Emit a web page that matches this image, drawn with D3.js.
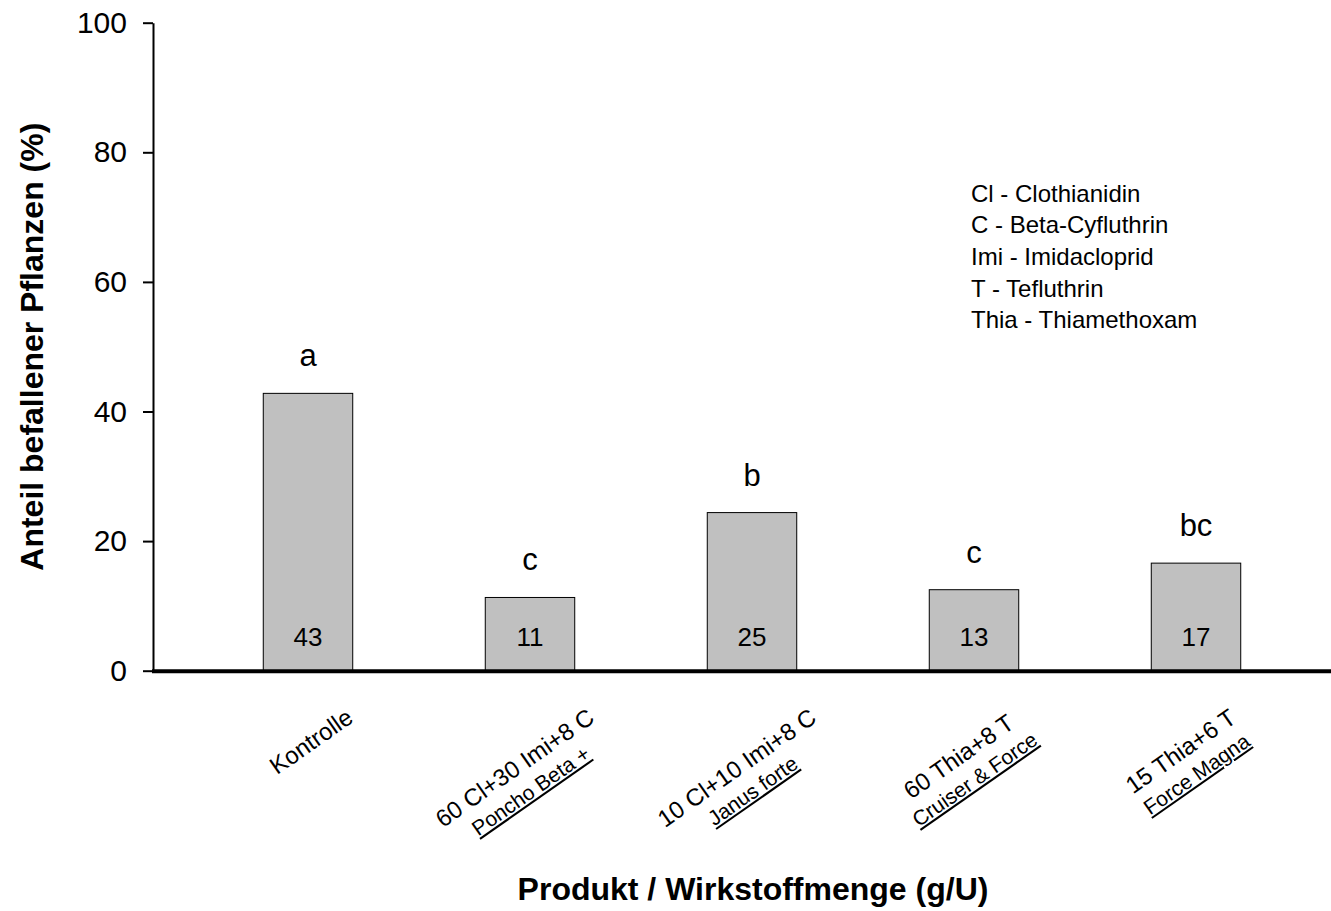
<!DOCTYPE html>
<html>
<head>
<meta charset="utf-8">
<script src="https://cdn.jsdelivr.net/npm/d3@7"></script>
<style>
	body { margin: 0; background: #fff; }
	svg { display: block; }
	text { font-family: Arial, "Liberation Sans", sans-serif; fill: #000; }
</style>
</head>
<body>
<div id="chart"></div>
<script>
// data
var categories = ["Kontrolle", "Poncho Beta +", "Janus forte", "Cruiser & Force", "Force Magna"];
var doseLabels = ["Kontrolle", "60 Cl+30 Imi+8 C", "10 Cl+10 Imi+8 C", "60 Thia+8 T", "15 Thia+6 T"];
var productLabels = ["", "Poncho Beta +", "Janus forte", "Cruiser & Force", "Force Magna"];
var values = [42.8, 11.3, 24.4, 12.5, 16.6];
var valueLabels = ["43", "11", "25", "13", "17"];
var letters = ["a", "c", "b", "c", "bc"];
var yTicks = [0, 20, 40, 60, 80, 100];
var legendLines = ["Cl - Clothianidin", "C - Beta-Cyfluthrin", "Imi - Imidacloprid", "T - Tefluthrin", "Thia - Thiamethoxam"];

var width = 1331, height = 911;
var axisX = 153, axisTop = 22.7, axisBottom = 670.7;

var svg = d3.select("#chart").append("svg")
	.attr("width", width)
	.attr("height", height);

var x = d3.scaleBand()
	.domain(categories)
	.range([197, 1307])
	.paddingInner(0.597)
	.paddingOuter(0.2985);

var y = d3.scaleLinear()
	.domain([0, 100])
	.range([axisBottom, axisTop]);

// bars
svg.append("g").selectAll("rect")
	.data(values)
	.join("rect")
	.attr("x", (d, i) => x(categories[i]))
	.attr("y", d => y(d))
	.attr("width", x.bandwidth())
	.attr("height", d => y(0) - y(d))
	.attr("fill", "#c0c0c0")
	.attr("stroke", "#000")
	.attr("stroke-width", 1);

// values inside bars
svg.append("g").selectAll("text")
	.data(valueLabels)
	.join("text")
	.attr("x", (d, i) => x(categories[i]) + x.bandwidth() / 2)
	.attr("y", y(0) - 25)
	.attr("text-anchor", "middle")
	.style("font-size", "26px")
	.text(d => d);

// significance letters
svg.append("g").selectAll("text")
	.data(letters)
	.join("text")
	.attr("x", (d, i) => x(categories[i]) + x.bandwidth() / 2)
	.attr("y", (d, i) => y(values[i]) - 27)
	.attr("text-anchor", "middle")
	.style("font-size", "31px")
	.text(d => d);

// y axis
var yAxis = svg.append("g")
	.attr("transform", "translate(" + axisX + ",0)")
	.call(d3.axisLeft(y).tickValues(yTicks).tickSize(10).tickSizeOuter(0).tickPadding(16));
yAxis.select(".domain").attr("stroke-width", 2);
yAxis.selectAll(".tick line").attr("stroke-width", 2);
yAxis.selectAll(".tick text")
	.style("font-size", "30px")
	.attr("font-family", null);

// x axis baseline (runs across whole plot)
svg.append("line")
	.attr("x1", axisX - 1)
	.attr("x2", width)
	.attr("y1", y(0) + 0.5)
	.attr("y2", y(0) + 0.5)
	.attr("stroke", "#000")
	.attr("stroke-width", 4);

// rotated category labels
var labelTop = 703;
categories.forEach(function(c, i) {
	var outer = svg.append("g");
	var inner = outer.append("g").attr("transform", "rotate(-35)");
	inner.append("text")
		.attr("text-anchor", "middle")
		.style("font-size", "24px")
		.text(doseLabels[i]);
	if (productLabels[i]) {
		inner.append("text")
			.attr("text-anchor", "middle")
			.attr("y", 27)
			.attr("text-decoration", "underline")
			.style("font-size", "21px")
			.text(productLabels[i]);
	}
	var r = inner.node().getBoundingClientRect();
	var cx = x(c) + x.bandwidth() / 2;
	// long two-line labels sit a bit left of the tick in the original
	var shift = productLabels[i] ? -8 : 3;
	outer.attr("transform", "translate(" + (cx + shift - (r.left + r.width / 2)) + "," + (labelTop - r.top) + ")");
});

// axis titles
svg.append("text")
	.attr("transform", "translate(43," + ((axisTop + axisBottom) / 2) + ") rotate(-90)")
	.attr("text-anchor", "middle")
	.style("font-size", "32px")
	.style("font-weight", "bold")
	.text("Anteil befallener Pflanzen (%)");

svg.append("text")
	.attr("x", 753)
	.attr("y", 900)
	.attr("text-anchor", "middle")
	.style("font-size", "32px")
	.style("font-weight", "bold")
	.text("Produkt / Wirkstoffmenge (g/U)");

// abbreviations note
svg.append("g").selectAll("text")
	.data(legendLines)
	.join("text")
	.attr("x", 971)
	.attr("y", (d, i) => 201.7 + i * 31.6)
	.style("font-size", "24px")
	.text(d => d);
</script>
</body>
</html>
